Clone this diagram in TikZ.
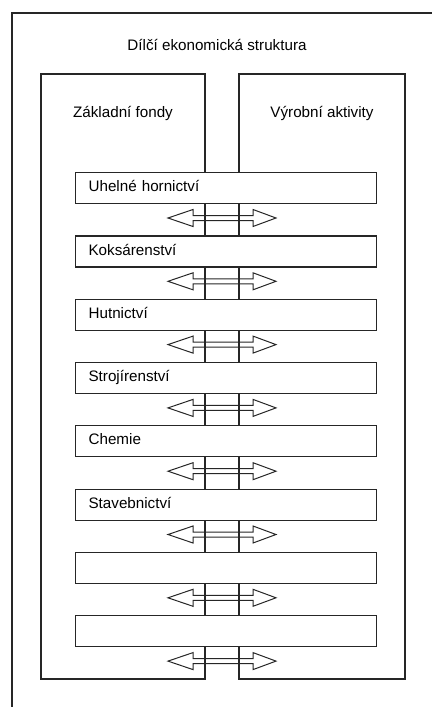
\documentclass[tikz,border=0pt]{standalone}
\usepackage{fontspec}
\setmainfont{Liberation Sans}
\usetikzlibrary{calc}
\begin{document}
\begin{tikzpicture}[x=1pt,y=-1pt,
  line/.style={line width=1.2pt, draw=black!85},
  rowbox/.style={line, fill=white, rectangle, anchor=north west,
    minimum width=301pt, minimum height=31pt, inner xsep=13pt, inner ysep=0pt,
    text width=275pt, align=left, font=\fontsize{15.2}{18}\selectfont},
  lbl/.style={font=\fontsize{15.2}{18}\selectfont, inner sep=0pt},
  dblarrow/.style={line width=1pt, draw=black!85, line join=miter}]
\useasboundingbox (0,0) rectangle (432,707);
% outer frame (open at right and bottom)
\draw[line] (12,707) -- (12,13) -- (432,13);
\node[lbl] (title) at (217,45) {Dílčí ekonomická struktura};
% columns
\draw[line] (41,74) rectangle (205,679);
\draw[line] (239,74) rectangle (405,679);
\node[lbl] (colA) at (123,113) {Základní fondy};
\node[lbl] (colB) at (322,113) {Výrobní aktivity};
% rows
\foreach \i/\t in {1/{Uhelné hornictví},2/{Koksárenství},3/{Hutnictví},4/{Strojírenství},5/{Chemie},6/{Stavebnictví},7/{},8/{}}{
  \pgfmathsetmacro{\top}{172+63.3*(\i-1)}
  \node[rowbox] (r\i) at (75,\top) {\strut\t};
  \pgfmathsetmacro{\ay}{\top+31+15}
  \coordinate (a\i) at (222,\ay);
  \draw[dblarrow] ($(a\i)+(-54,0)$) -- ++(25,-8.5) -- ++(0,6) -- ++(60,0) -- ++(0,-6)
     -- ($(a\i)+(54,0)$) -- ++(-23,8.5) -- ++(0,-6) -- ++(-60,0) -- ++(0,6) -- cycle;
}
\end{tikzpicture}
\end{document}
